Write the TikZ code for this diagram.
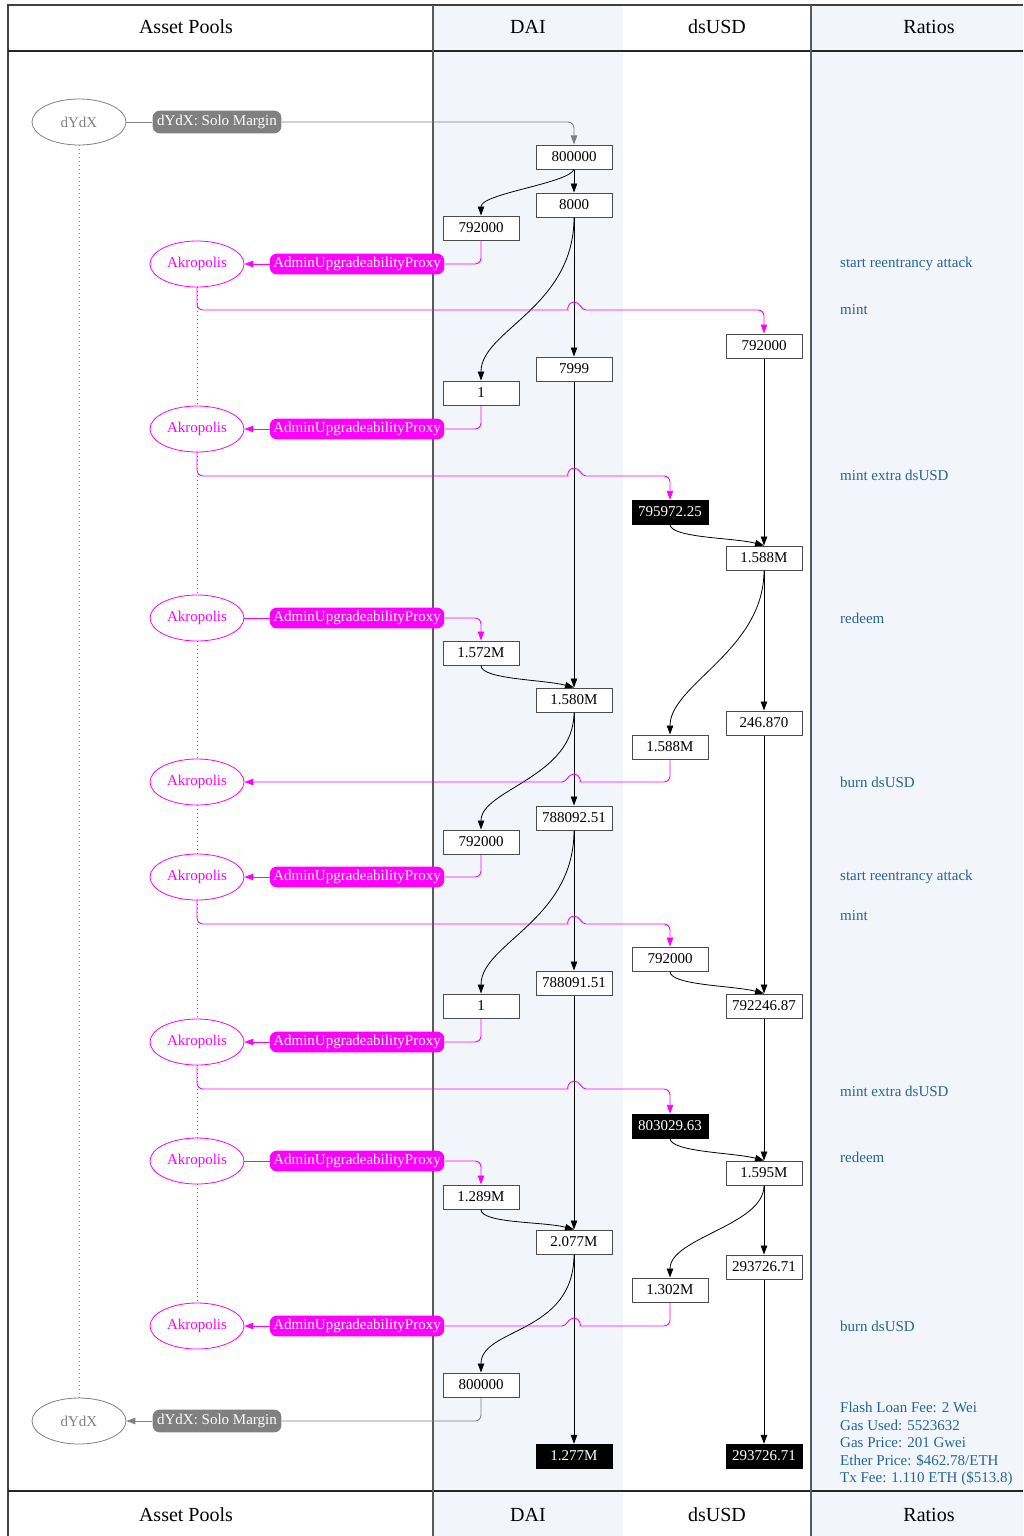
\documentclass[tikz,border=0pt]{standalone}
\usepackage{fontspec}
\setmainfont{Liberation Serif}
\usetikzlibrary{arrows.meta,shapes.geometric,calc}
\definecolor{mag}{HTML}{FF00FF}
\definecolor{bgblue}{HTML}{F2F6FB}
\definecolor{ratioblue}{HTML}{23649B}
\definecolor{dgray}{HTML}{808080}
\begin{document}
\begin{tikzpicture}[x=1pt,y=-1pt,font=\fontsize{15}{17.5}\selectfont,
  box/.style={draw=black!70,line width=1pt,fill=white,minimum width=76pt,minimum height=24pt,inner sep=0pt},
  bbox/.style={draw=black,fill=black,text=white,minimum width=76pt,minimum height=24pt,inner sep=0pt},
  akro/.style={ellipse,draw=mag,text=mag,line width=0.8pt,minimum width=94pt,minimum height=46pt,inner sep=0pt},
  dydx/.style={ellipse,draw=dgray,text=dgray,line width=0.8pt,minimum width=94pt,minimum height=46pt,inner sep=0pt},
  proxy/.style={fill=mag,text=white,rounded corners=7pt,minimum height=18pt,inner sep=3.5pt},
  solo/.style={fill=dgray,text=white,rounded corners=7pt,minimum height=18pt,inner sep=4.5pt},
  tip/.style={-{Triangle[length=9pt,width=6.5pt]}},
  edge/.style={draw=black,line width=0.8pt,tip},
  medge/.style={draw=mag,line width=0.9pt,rounded corners=6pt},
  gedge/.style={draw=dgray,line width=0.9pt,rounded corners=6pt},
  ratio/.style={text=ratioblue,anchor=west,inner sep=0pt},
  hdr/.style={font=\fontsize{20}{22}\selectfont},
  mlife/.style={draw=mag,line width=0.8pt,dash pattern=on 1pt off 3pt},
  glife/.style={draw=dgray,line width=0.8pt,dash pattern=on 1pt off 3pt}]
\useasboundingbox (0,0) rectangle (1023,1536);
% backgrounds and frame
\fill[bgblue] (433,5) rectangle (623,1536);
\fill[bgblue] (811,5) rectangle (1023,1536);
\draw[black!75,line width=1.2pt] (8,1536) -- (8,5) -- (1023,5);
\draw[black!85,line width=1.2pt] (8,51) -- (1023,51);
\draw[black!85,line width=1.2pt] (8,1491) -- (1023,1491);
\draw[black!65,line width=1.2pt] (433,5) -- (433,1536);
\draw[black!65,line width=1.2pt] (811,5) -- (811,1536);
% headers
\node[hdr] (h1) at (186,27) {Asset Pools};
\node[hdr] (h2) at (528,27) {DAI};
\node[hdr] (h3) at (717,27) {dsUSD};
\node[hdr] (h4) at (929,27) {Ratios};
\node[hdr] (f1) at (186,1515) {Asset Pools};
\node[hdr] (f2) at (528,1515) {DAI};
\node[hdr] (f3) at (717,1515) {dsUSD};
\node[hdr] (f4) at (929,1515) {Ratios};
% actors
\node[dydx] (dy1) at (79,122) {dYdX};
\node[dydx] (dy2) at (79,1421) {dYdX};
\node[akro] (ak1) at (197,264) {Akropolis};
\node[akro] (ak2) at (197,429) {Akropolis};
\node[akro] (ak3) at (197,618) {Akropolis};
\node[akro] (ak4) at (197,782) {Akropolis};
\node[akro] (ak5) at (197,877) {Akropolis};
\node[akro] (ak6) at (197,1042) {Akropolis};
\node[akro] (ak7) at (197,1161) {Akropolis};
\node[akro] (ak8) at (197,1326) {Akropolis};
\draw[glife] (dy1.south) -- (dy2.north);
\foreach \a/\b in {ak1/ak2,ak2/ak3,ak3/ak4,ak4/ak5,ak5/ak6,ak6/ak7,ak7/ak8}
  \draw[mlife] (\a.south) -- (\b.north);
% labels
\node[solo] (sm1) at (217,122) {dYdX: Solo Margin};
\node[solo] (sm2) at (217,1421) {dYdX: Solo Margin};
\node[proxy] (px1) at (357,264) {AdminUpgradeabilityProxy};
\node[proxy] (px2) at (357,429) {AdminUpgradeabilityProxy};
\node[proxy] (px3) at (357,618) {AdminUpgradeabilityProxy};
\node[proxy] (px5) at (357,877) {AdminUpgradeabilityProxy};
\node[proxy] (px6) at (357,1042) {AdminUpgradeabilityProxy};
\node[proxy] (px7) at (357,1161) {AdminUpgradeabilityProxy};
\node[proxy] (px8) at (357,1326) {AdminUpgradeabilityProxy};
% value boxes
\node[box] (a1) at (574,157) {800000};
\node[box] (a2) at (574,205) {8000};
\node[box] (a3) at (481,228) {792000};
\node[box] (s1) at (764,346) {792000};
\node[box] (a4) at (574,369) {7999};
\node[box] (a5) at (481,393) {1};
\node[bbox] (s2) at (670,512) {795972.25};
\node[box] (s3) at (764,558) {1.588M};
\node[box] (a6) at (481,653) {1.572M};
\node[box] (a7) at (574,700) {1.580M};
\node[box] (s4) at (764,723) {246.870};
\node[box] (s5) at (670,747) {1.588M};
\node[box] (a8) at (574,818) {788092.51};
\node[box] (a9) at (481,842) {792000};
\node[box] (s6) at (670,959) {792000};
\node[box] (a10) at (574,983) {788091.51};
\node[box] (s7) at (764,1006) {792246.87};
\node[box] (a11) at (481,1006) {1};
\node[bbox] (s8) at (670,1126) {803029.63};
\node[box] (s9) at (764,1173) {1.595M};
\node[box] (a12) at (481,1197) {1.289M};
\node[box] (a13) at (574,1242) {2.077M};
\node[box] (s10) at (764,1267) {293726.71};
\node[box] (s11) at (670,1290) {1.302M};
\node[box] (a14) at (481,1385) {800000};
\node[bbox] (a15) at (574,1456) {1.277M};
\node[bbox] (s12) at (764,1456) {293726.71};
% black edges
\draw[edge] (a1.south) -- (a2.north);
\draw[edge] (a1.south) .. controls +(-6,14) and +(0,-22) .. (a3.north);
\draw[edge] (a2.south) -- (a4.north);
\draw[edge] (a2.south) .. controls +(0,90) and +(0,-50) .. (a5.north);
\draw[edge] (s1.south) -- (s3.north);
\draw[edge] (s2.south) .. controls +(0,14) and +(-30,-8) .. (s3.north);
\draw[edge] (a4.south) -- (a7.north);
\draw[edge] (a6.south) .. controls +(0,14) and +(-30,-8) .. (a7.north);
\draw[edge] (s3.south) -- (s4.north);
\draw[edge] (s3.south) .. controls +(0,80) and +(0,-50) .. (s5.north);
\draw[edge] (s4.south) -- (s7.north);
\draw[edge] (a7.south) -- (a8.north);
\draw[edge] (a7.south) .. controls +(0,65) and +(0,-40) .. (a9.north);
\draw[edge] (a8.south) -- (a10.north);
\draw[edge] (a8.south) .. controls +(0,90) and +(0,-50) .. (a11.north);
\draw[edge] (s6.south) .. controls +(0,14) and +(-30,-8) .. (s7.north);
\draw[edge] (s7.south) -- (s9.north);
\draw[edge] (s8.south) .. controls +(0,14) and +(-30,-8) .. (s9.north);
\draw[edge] (a10.south) -- (a13.north);
\draw[edge] (a12.south) .. controls +(0,14) and +(-30,-8) .. (a13.north);
\draw[edge] (s9.south) -- (s10.north);
\draw[edge] (s9.south) .. controls +(0,40) and +(0,-40) .. (s11.north);
\draw[edge] (s10.south) -- (s12.north);
\draw[edge] (a13.south) -- (a15.north);
\draw[edge] (a13.south) .. controls +(0,80) and +(0,-45) .. (a14.north);
% gray edges
\draw[gedge] (dy1.east) -- (sm1.west);
\draw[gedge,tip] (sm1.east) -| (a1.north);
\draw[gedge] (a14.south) |- (sm2.east);
\draw[gedge,tip] (sm2.west) -- (dy2.east);
% magenta edges (with bridge over the DAI line at x=574)
\draw[medge] (a3.south) |- (px1.east);
\draw[medge,tip] (px1.west) -- (ak1.east);
\draw[medge,tip] (ak1.south) |- (562,310) [sharp corners] .. controls (567,310) and (568,302) .. (574,302) .. controls (580,302) and (581,310) .. (586,310) [rounded corners=6pt] -| (s1.north);
\draw[medge] (a5.south) |- (px2.east);
\draw[medge,tip] (px2.west) -- (ak2.east);
\draw[medge,tip] (ak2.south) |- (562,476) [sharp corners] .. controls (567,476) and (568,468) .. (574,468) .. controls (580,468) and (581,476) .. (586,476) [rounded corners=6pt] -| (s2.north);
\draw[medge] (ak3.east) -- (px3.west);
\draw[medge,tip] (px3.east) -| (a6.north);
\draw[medge,tip] (s5.south) |- (586,782) [sharp corners] .. controls (581,782) and (580,774) .. (574,774) .. controls (568,774) and (567,782) .. (562,782) -- (ak4.east);
\draw[medge] (a9.south) |- (px5.east);
\draw[medge,tip] (px5.west) -- (ak5.east);
\draw[medge,tip] (ak5.south) |- (562,924) [sharp corners] .. controls (567,924) and (568,916) .. (574,916) .. controls (580,916) and (581,924) .. (586,924) [rounded corners=6pt] -| (s6.north);
\draw[medge] (a11.south) |- (px6.east);
\draw[medge,tip] (px6.west) -- (ak6.east);
\draw[medge,tip] (ak6.south) |- (562,1089) [sharp corners] .. controls (567,1089) and (568,1081) .. (574,1081) .. controls (580,1081) and (581,1089) .. (586,1089) [rounded corners=6pt] -| (s8.north);
\draw[medge] (ak7.east) -- (px7.west);
\draw[medge,tip] (px7.east) -| (a12.north);
\draw[medge] (s11.south) |- (586,1326) [sharp corners] .. controls (581,1326) and (580,1318) .. (574,1318) .. controls (568,1318) and (567,1326) .. (562,1326) -- (px8.east);
\draw[medge,tip] (px8.west) -- (ak8.east);
% ratios
\node[ratio] (r1) at (840,264) {start reentrancy attack};
\node[ratio] (r2) at (840,310) {mint};
\node[ratio] (r3) at (840,475) {mint extra dsUSD};
\node[ratio] (r4) at (840,618) {redeem};
\node[ratio] (r5) at (840,782) {burn dsUSD};
\node[ratio] (r6) at (840,877) {start reentrancy attack};
\node[ratio] (r7) at (840,916) {mint};
\node[ratio] (r8) at (840,1091) {mint extra dsUSD};
\node[ratio] (r9) at (840,1157) {redeem};
\node[ratio] (r10) at (840,1326) {burn dsUSD};
\node[ratio,anchor=north west,align=left] (r11) at (840,1402) {Flash Loan Fee: 2 Wei\\Gas Used: 5523632\\Gas Price: 201 Gwei\\Ether Price: \$462.78/ETH\\Tx Fee: 1.110 ETH (\$513.8)};
\end{tikzpicture}
\end{document}
